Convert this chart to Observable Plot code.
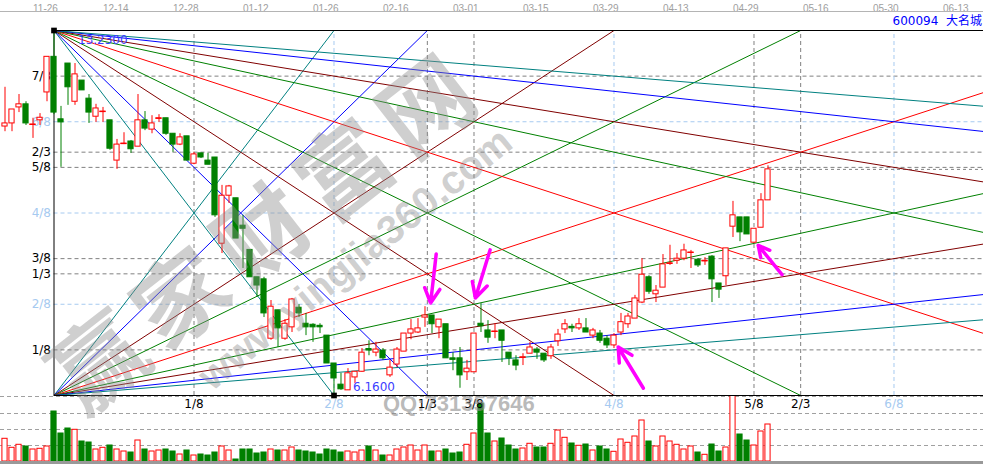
<!DOCTYPE html>
<html><head><meta charset="utf-8">
<script src="https://cdn.jsdelivr.net/npm/d3@7"></script>
<script src="https://cdn.jsdelivr.net/npm/@observablehq/plot@0.6"></script>
<style>
html,body{margin:0;padding:0;background:#fff;overflow:hidden;}
#wrap{position:relative;width:983px;height:472px;overflow:hidden;font-family:"DejaVu Sans",sans-serif;}
#vol,#main{position:absolute;left:0;}
#vol{top:395px;}
#main{top:0;}
.topline{position:absolute;left:0;top:11px;width:983px;height:0;border-top:1px solid #b4b4b4;}
.title{position:absolute;right:1px;top:11px;font:12px "DejaVu Sans","Noto Sans CJK SC",sans-serif;color:#0000ff;white-space:pre;}
.wm{position:absolute;white-space:nowrap;font-weight:bold;color:rgba(140,140,140,0.42);transform-origin:center center;pointer-events:none;}
</style>
</head><body>
<div id="wrap">
  <div id="vol"></div>
  <div id="main"></div>
  <div class="topline"></div>
  <div class="title">600094  大名城</div>
  <div class="wm" style="left:5px;top:165px;width:500px;text-align:center;font:bold 92px 'Noto Sans CJK SC',sans-serif;letter-spacing:12px;transform:rotate(-38deg);color:rgba(140,140,140,0.42)">赢家财富网</div>
  <div class="wm" style="left:135px;top:236px;width:440px;text-align:center;font:bold 40px 'Liberation Sans',sans-serif;transform:rotate(-39deg);color:rgba(140,140,140,0.42)">www.yingjia360.com</div>
  <div class="wm" style="left:383px;top:391px;font:bold 22px 'Liberation Sans',sans-serif;color:rgba(140,140,140,0.6)">QQ:731357646</div>
</div>
<script>
// ---- data ----
const open  = [11.37,11.43,11.74,11.80,11.40,11.49,12.03,12.72,11.51,12.59,11.85,12.26,11.91,11.56,11.65,11.49,10.71,11.03,11.08,10.98,
11.49,11.31,11.52,11.53,11.23,11.02,11.18,10.65,10.85,10.71,10.77,9.10,10.03,9.98,9.45,8.98,8.45,8.41,7.26,7.81,
7.26,7.48,7.86,7.55,7.53,7.51,7.32,6.78,6.37,6.26,6.51,6.62,7.06,6.99,7.03,6.55,6.76,7.01,7.36,7.38,
7.67,7.71,7.48,7.54,6.88,6.88,6.61,6.61,7.55,7.42,7.39,7.42,6.99,6.84,6.89,6.97,7.05,6.97,6.92,7.21,
7.44,7.49,7.46,7.46,7.32,7.36,7.26,7.13,7.38,7.54,7.65,7.96,8.45,8.12,8.25,8.71,8.77,8.81,8.92,8.79,
8.76,8.85,8.33,8.47,9.43,9.61,9.61,9.12,9.41,9.94];
const high  = [12.13,11.70,11.99,11.85,11.53,11.62,12.72,13.23,11.76,12.59,12.59,12.26,11.99,11.80,11.74,11.49,11.12,11.25,11.10,11.99,
11.66,11.58,11.60,11.53,11.23,11.23,11.18,10.87,10.85,10.85,10.77,10.23,10.23,9.98,9.65,8.98,8.45,8.45,8.00,7.81,
7.63,8.04,7.92,7.75,7.55,7.55,7.32,6.78,6.59,6.68,6.62,7.07,7.22,7.19,7.07,6.84,7.09,7.36,7.63,7.65,
7.88,7.71,7.63,7.54,6.99,7.09,6.84,7.36,7.94,7.61,7.55,7.42,6.99,6.93,6.97,7.19,7.09,6.97,7.15,7.44,
7.63,7.54,7.65,7.65,7.46,7.42,7.32,7.36,7.75,7.75,8.10,8.81,8.48,8.29,8.89,9.07,8.91,9.09,8.97,8.81,
8.83,8.87,8.33,9.01,9.92,9.61,9.61,9.39,10.07,10.61];
const low   = [11.27,11.27,11.64,11.39,11.14,11.39,11.85,11.60,10.58,11.78,11.78,12.07,11.43,11.45,11.45,10.91,10.54,11.02,10.85,10.98,
11.29,11.23,11.45,11.20,10.87,11.00,10.71,10.63,10.75,10.63,9.61,8.91,9.88,9.20,8.62,8.45,8.06,7.67,7.23,7.09,
7.23,7.38,7.67,7.32,7.19,7.36,6.78,6.16,6.26,6.26,6.39,6.61,6.93,6.91,6.84,6.51,6.70,7.01,7.24,7.36,
7.48,7.36,7.26,6.88,6.64,6.30,6.45,6.61,7.38,7.17,7.26,6.80,6.74,6.64,6.74,6.97,6.86,6.80,6.86,7.11,
7.36,7.38,7.42,7.38,7.26,7.17,7.07,7.07,7.32,7.46,7.65,7.94,8.12,7.96,8.25,8.68,8.70,8.77,8.62,8.64,
8.68,7.96,8.04,8.29,9.22,9.14,9.28,9.10,9.41,9.94];
const close = [11.43,11.70,11.80,11.43,11.41,11.54,12.72,11.64,11.45,12.13,12.38,12.07,11.64,11.72,11.66,10.94,11.02,11.04,10.93,11.49,
11.33,11.43,11.53,11.23,11.02,11.16,10.71,10.83,10.77,10.63,9.65,10.03,10.21,9.20,9.39,8.45,8.29,7.75,7.88,7.46,
7.55,8.02,7.75,7.48,7.48,7.49,6.78,6.49,6.28,6.59,6.62,6.99,7.04,7.05,6.88,6.70,7.05,7.36,7.44,7.46,
7.71,7.54,7.63,6.88,6.86,6.55,6.68,7.36,7.50,7.28,7.40,7.22,6.88,6.74,6.90,7.09,6.99,6.84,7.09,7.34,
7.54,7.47,7.54,7.38,7.42,7.22,7.13,7.32,7.58,7.69,8.04,8.50,8.17,8.19,8.70,8.72,8.81,8.97,8.93,8.68,
8.77,8.41,8.21,9.01,9.65,9.32,9.28,9.39,9.94,10.54];
const volume = [22.7,13.7,16.7,15,12,12.7,15,50,28,33,31.7,20,19,12,13.7,16,12,10,9,21,
12,10,11,12,10,7,11,6,7,6,9,15,11,2,12,12,8,9,12,11,
11,14,11,10,9,7,12,11,9,10,9,11,15,11,6,6,12,14,16,11,
16,10,10,12,8,9,16.7,28,57.7,28,20,23,16,12,13,17.7,14,14,17.7,31,
23.7,18,15.7,17,11,15,12,9.7,22,18.7,25,41,20,15,25,20,16.7,12,15,9,
6.7,17,10,14,72,27,21,16,30,37];
const dateLabels  = ["11-26","12-14","12-28","01-12","01-26","02-16","03-01","03-15","03-29","04-13","04-29","05-16","05-30","06-13"];
const dateTickIdx = [4,14,24,34,44,54,64,74,84,94,104,114,124,134];

// Gann box anchors
const hiIdx = 7, hiP = 13.23, loIdx = 47, loP = 6.16;
const boxBars = 160;
const priceFracs  = [7/8, 6/8, 2/3, 5/8, 4/8, 3/8, 1/3, 2/8, 1/8];
const priceLabels = ["7/8","6/8","2/3","5/8","4/8","3/8","1/3","2/8","1/8"];
const timeFracs   = [1/8, 2/8, 1/3, 3/8, 4/8, 5/8, 2/3, 6/8];
const timeLabels  = ["1/8","2/8","1/3","3/8","4/8","5/8","2/3","6/8"];
const lightLabels = ["2/8","4/8","6/8"];
const fanRatios = [4, 3, 2, 1.5, 1, 2/3, 1/2, 1/3, 1/4];
const fanColors = ["#008080","#0000ff","#800000","#008000","#ff0000","#008000","#800000","#0000ff","#008080"];

// annotation arrows (tail -> head), x in bar index, y in price
const arrowX1 = [61.6, 69.3, 91.2, 111.0];
const arrowY1 = [8.90, 8.98, 6.30, 8.50];
const arrowX2 = [60.8, 67.2, 87.6, 107.6];
const arrowY2 = [7.95, 8.05, 7.10, 9.07];

// ---- build ----
const RED = "#ff0000", GREEN = "#008000";
const xDom = [-0.643, 139.786];
const candles = open.map((o, i) => ({i, o, h: high[i], l: low[i], c: close[i], v: volume[i], up: close[i] >= o}));
const pLevels = priceFracs.map((f, k) => ({p: loP + f * (hiP - loP), label: priceLabels[k]}));
const tLevels = timeFracs.map((f, k) => ({t: hiIdx + f * boxBars, label: timeLabels[k]}));
const fanLines = [];
fanRatios.forEach((r, k) => {
  fanLines.push({x1: hiIdx, y1: hiP, x2: hiIdx + boxBars, y2: hiP - r * (hiP - loP), color: fanColors[k]});
  fanLines.push({x1: hiIdx, y1: loP, x2: hiIdx + boxBars, y2: loP + r * (hiP - loP), color: fanColors[k]});
});
const arrows = arrowX1.map((x, k) => ({x1: x, y1: arrowY1[k], x2: arrowX2[k], y2: arrowY2[k]}));
const anchors = [{x: hiIdx, y: hiP}, {x: loIdx, y: loP}];
const isLight = s => lightLabels.includes(s);
const last = candles[candles.length - 1];

const main = Plot.plot({
  width: 983, height: 412,
  marginTop: 30, marginBottom: 17, marginLeft: 0, marginRight: 0,
  x: {domain: xDom, axis: null},
  y: {domain: [loP, hiP], axis: null},
  color: {type: "identity"},
  style: {background: "none", fontFamily: "DejaVu Sans, sans-serif", fontSize: "12px", overflow: "visible"},
  marks: [
    Plot.axisX({anchor: "top", ticks: dateTickIdx, tickFormat: d => dateLabels[dateTickIdx.indexOf(d)],
      tickSize: 0, tickPadding: 19, textAnchor: "start", fill: "#a0a0a0", fontSize: 10, fontFamily: "Liberation Sans, sans-serif"}),
    Plot.ruleY(pLevels, {y: "p", x1: hiIdx, x2: xDom[1], stroke: d => isLight(d.label) ? "#a6caf0" : "#808080", strokeDasharray: "4,3"}),
    Plot.ruleX(tLevels, {x: "t", y1: loP, y2: hiP, stroke: d => isLight(d.label) ? "#a6caf0" : "#808080", strokeDasharray: "4,3"}),
    Plot.ruleY([last.c], {x1: last.i + 0.5, x2: xDom[1], stroke: "#808080", strokeDasharray: "3,3"}),
    Plot.text(pLevels, {x: hiIdx, y: "p", text: "label", dx: -3, textAnchor: "end", fill: d => isLight(d.label) ? "#a6caf0" : "#000000"}),
    Plot.text(tLevels, {x: "t", y: loP, text: "label", dy: 9, fill: d => isLight(d.label) ? "#a6caf0" : "#000000"}),
    Plot.link(fanLines, {x1: "x1", y1: "y1", x2: "x2", y2: "y2", stroke: "color", strokeWidth: 1, clip: true}),
    Plot.ruleY([hiP, loP], {x1: hiIdx, x2: xDom[1], stroke: "#000000"}),
    Plot.ruleX([hiIdx], {y1: loP, y2: hiP, stroke: "#000000"}),
    Plot.ruleX(candles, {x: "i", y1: "l", y2: "h", stroke: d => d.up ? RED : GREEN}),
    Plot.rect(candles, {x1: d => d.i - 0.37, x2: d => d.i + 0.37, y1: "o", y2: "c",
      fill: d => d.up ? "#ffffff" : GREEN, stroke: d => d.up ? RED : GREEN}),
    Plot.ruleY(candles.filter(d => Math.abs(d.o - d.c) < 0.03), {y: "c", x1: d => d.i - 0.42, x2: d => d.i + 0.42, stroke: d => d.up ? RED : GREEN}),
    Plot.dot(anchors, {x: "x", y: "y", symbol: "square", r: 3.2, fill: "#000000"}),
    Plot.text([anchors[0]], {x: "x", y: "y", text: d => d.y.toFixed(4), dx: 24, dy: 10, textAnchor: "start", fill: "#3c3cff", fontSize: 12}),
    Plot.text([anchors[1]], {x: "x", y: "y", text: d => d.y.toFixed(4), dx: 19, dy: -8, textAnchor: "start", fill: "#3c3cff", fontSize: 12}),
    Plot.arrow(arrows, {x1: "x1", y1: "y1", x2: "x2", y2: "y2", stroke: "#ff00ff", strokeWidth: 3.5, headLength: 13, headAngle: 55})
  ]
});
document.getElementById("main").append(main);

const vol = Plot.plot({
  width: 983, height: 77,
  marginTop: 0, marginBottom: 11, marginLeft: 0, marginRight: 0,
  x: {domain: xDom, axis: null},
  y: {domain: [0, 66], axis: null},
  color: {type: "identity"},
  style: {background: "none"},
  marks: [
    Plot.ruleY([16, 32, 48, 65], {stroke: "#a0a0a0", strokeDasharray: "4,3"}),
    Plot.rect(candles, {x1: d => d.i - 0.37, x2: d => d.i + 0.37, y1: 0, y2: "v",
      fill: d => d.up ? "#ffffff" : GREEN, stroke: d => d.up ? RED : GREEN, clip: true}),
    Plot.ruleY([0], {stroke: "#999999", strokeWidth: 3, dy: 1})
  ]
});
document.getElementById("vol").append(vol);
</script>
</body></html>
